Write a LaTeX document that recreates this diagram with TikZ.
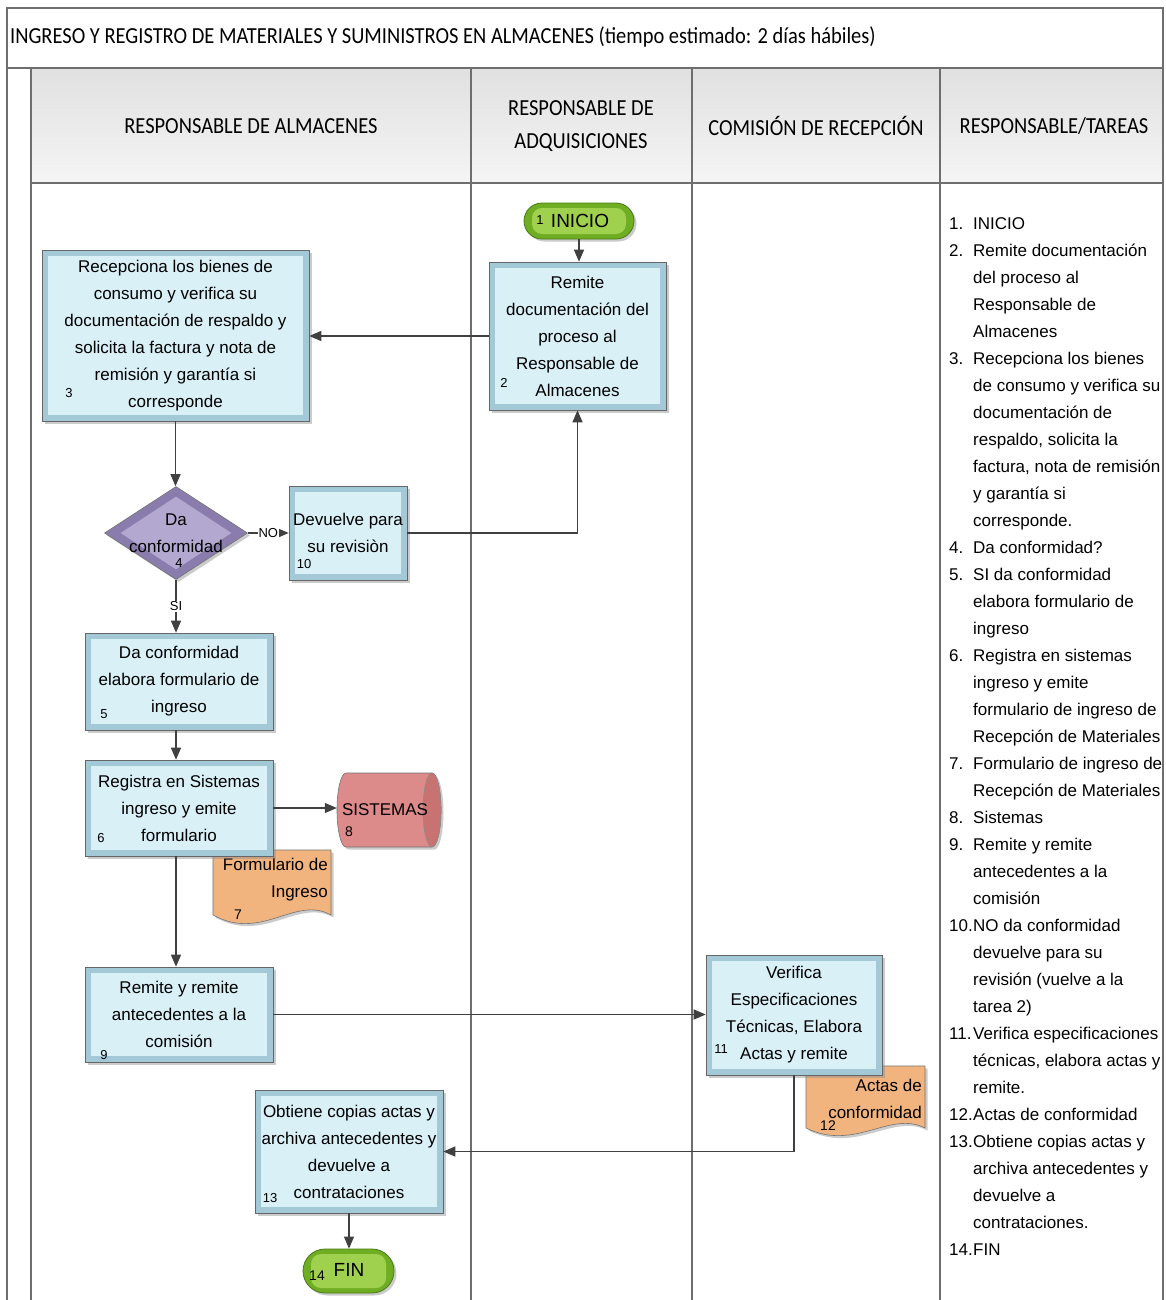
\documentclass[tikz,border=0pt]{standalone}
\usepackage{fontspec}
\setmainfont{Liberation Sans}
\newfontfamily\titlef{Carlito}[FakeStretch=0.89]
\usetikzlibrary{arrows.meta,shapes.geometric,shapes.misc,shadows,calc}
\definecolor{tblline}{HTML}{6E6E6E}
\definecolor{boxout}{HTML}{A3C8D6}
\definecolor{boxin}{HTML}{D9F0F7}
\definecolor{diaout}{HTML}{8A7DAE}
\definecolor{diain}{HTML}{B3A8D0}
\definecolor{grnout}{HTML}{6FAE22}
\definecolor{grnin}{HTML}{9FD14E}
\definecolor{grnline}{HTML}{4A7A18}
\definecolor{cylbody}{HTML}{DC8A8A}
\definecolor{cylend}{HTML}{C97272}
\definecolor{docfill}{HTML}{F2B47E}
\definecolor{arrcol}{HTML}{404040}
\tikzset{
  tbl/.style={draw=tblline, line width=1.2pt},
  shad/.style={drop shadow={shadow xshift=2.5pt, shadow yshift=-2.5pt, fill=black!45, opacity=0.45}},
  proc/.style={rectangle, draw=black!60, line width=0.6pt, fill=boxout, inner sep=0pt,
    align=center, font=\fontsize{17}{27}\selectfont, shad,
    path picture={\fill[boxin] ([xshift=6pt,yshift=-6pt]path picture bounding box.north west)
      rectangle ([xshift=-6pt,yshift=6pt]path picture bounding box.south east);}},
  pill/.style={rounded rectangle, draw=grnline, line width=0.8pt, fill=grnout, inner sep=0pt, shad,
    path picture={\fill[grnin, rounded corners=10pt] ([xshift=8pt,yshift=-5pt]path picture bounding box.north west)
      rectangle ([xshift=-8pt,yshift=5pt]path picture bounding box.south east);}},
  docshape/.style={draw=black!55, line width=0.6pt, fill=docfill, shad},
  num/.style={font=\fontsize{13}{15}\selectfont, inner sep=0pt},
  txt/.style={font=\fontsize{17}{27}\selectfont, inner sep=0pt, align=center},
  hdr/.style={font=\titlef\fontsize{23}{33}\selectfont, inner sep=0pt, align=center},
  arr/.style={draw=arrcol, line width=1.3pt, -{Triangle[length=12pt,width=10pt]}},
  lbl/.style={font=\fontsize{13}{15}\selectfont, fill=white, inner sep=1pt},
}
\begin{document}
\begin{tikzpicture}[x=1pt,y=-1pt]
\useasboundingbox (0,0) rectangle (1165,1300);
\fill[white] (0,0) rectangle (1165,1300);
% header shading
\shade[top color=black!12, bottom color=black!4] (31,68) rectangle (1163,183);
% table lines
\draw[tbl] (7,1300) -- (7,8) -- (1163,8) -- (1163,1300);
\draw[tbl] (7,68) -- (1163,68);
\draw[tbl] (31,183) -- (1163,183);
\draw[tbl] (31,68) -- (31,1300);
\draw[tbl] (471,68) -- (471,1300);
\draw[tbl] (692,68) -- (692,1300);
\draw[tbl] (940,68) -- (940,1300);
% title and headers
\node[anchor=west, font=\titlef\fontsize{23}{27}\selectfont, inner sep=0pt] (title) at (10,37)
  {INGRESO Y REGISTRO DE MATERIALES Y SUMINISTROS EN ALMACENES (tiempo estimado: 2 días hábiles)};
\node[hdr] (h1) at (251,126) {RESPONSABLE DE ALMACENES};
\node[hdr] (h2) at (581,126) {RESPONSABLE DE\\ADQUISICIONES};
\node[hdr] (h3) at (816,126) {COMISIÓN DE RECEPCIÓN};
\node[hdr] (h4) at (1054,126) {RESPONSABLE/TAREAS};

% documents (drawn first, partly hidden)
\path[docshape] (213,850) -- (331,850) -- (331,915)
  .. controls (295,895) and (262,942) .. (213,915) -- cycle;
\node[txt, anchor=east, align=right] (d7) at (328,880) {Formulario de\\Ingreso};
\node[num, font=\fontsize{14}{16}\selectfont] (n7) at (238,915) {7};

\path[docshape] (806,1066) -- (925,1066) -- (925,1128)
  .. controls (890,1110) and (855,1152) .. (806,1128) -- cycle;
\node[txt, anchor=east, align=right] (d12) at (922,1099) {Actas de\\conformidad};
\node[num, font=\fontsize{14}{16}\selectfont] (n12) at (828,1126) {12};

% start
\node[pill, minimum width=110pt, minimum height=36pt] (ini) at (579,221) {};
\node[font=\fontsize{19}{22}\selectfont, inner sep=0pt] (init) at (580,221) {INICIO};
\node[num] (n1) at (540,220) {1};

% process boxes
\node[proc, minimum width=177pt, minimum height=148pt] (b2) at (577.5,336)
  {Remite\\documentación del\\proceso al\\Responsable de\\Almacenes};
\node[num] (n2) at (504,383) {2};

\node[proc, minimum width=267pt, minimum height=171pt] (b3) at (175.5,335.5)
  {Recepciona los bienes de\\consumo y verifica su\\documentación de respaldo y\\solicita la factura y nota de\\remisión y garantía si\\corresponde};
\node[num] (n3) at (69,393) {3};

% decision
\node[diamond, draw=black!55, line width=0.6pt, fill=diaout, minimum width=143pt, minimum height=93pt,
  inner sep=0pt, aspect=1.54, shad,
  path picture={\fill[diain] ($(path picture bounding box.west)+(16pt,0)$) -- ($(path picture bounding box.north)+(0,-10pt)$)
   -- ($(path picture bounding box.east)+(-16pt,0)$) -- ($(path picture bounding box.south)+(0,10pt)$) -- cycle;}]
  (d4) at (176,533) {};
\node[txt] (d4t) at (176,533) {Da\\conformidad};
\node[num] (n4) at (179,563) {4};

\node[proc, minimum width=118pt, minimum height=94pt] (b10) at (348,533) {Devuelve para\\su revisiòn};
\node[num] (n10) at (304,564) {10};

\node[proc, minimum width=188pt, minimum height=97pt] (b5) at (179,681.5)
  {Da conformidad\\elabora formulario de\\ingreso};
\node[num] (n5) at (104,714) {5};

\node[proc, minimum width=188pt, minimum height=96pt] (b6) at (179,808)
  {Registra en Sistemas\\ingreso y emite\\formulario};
\node[num] (n6) at (101,838) {6};

% cylinder (horizontal)
\fill[black!45, opacity=0.45] (348.5,775.5) -- (434.5,775.5)
  arc[start angle=90, end angle=-90, x radius=9pt, y radius=37pt] -- (348.5,849.5)
  arc[start angle=270, end angle=90, x radius=9pt, y radius=37pt] -- cycle;
\path[draw=black!55, line width=0.6pt, fill=cylbody] (346,773) -- (432,773)
  arc[start angle=90, end angle=-90, x radius=9pt, y radius=37pt] -- (346,847)
  arc[start angle=270, end angle=90, x radius=9pt, y radius=37pt] -- cycle;
\path[draw=black!45, line width=0.6pt, fill=cylend] (432,773)
  arc[start angle=90, end angle=270, x radius=9pt, y radius=37pt]
  arc[start angle=-90, end angle=90, x radius=9pt, y radius=37pt];
\node[inner sep=0pt, minimum width=104pt, minimum height=74pt] (sis) at (389,810) {};
\node[txt] (sist) at (385,810) {SISTEMAS};
\node[num, font=\fontsize{14}{16}\selectfont] (n8) at (349,832) {8};

\node[proc, minimum width=188pt, minimum height=95pt] (b9) at (179,1014.5)
  {Remite y remite\\antecedentes a la\\comisión};
\node[num] (n9) at (104,1055) {9};

\node[proc, minimum width=176pt, minimum height=120pt] (b11) at (794,1015)
  {Verifica\\Especificaciones\\Técnicas, Elabora\\Actas y remite};
\node[num] (n11) at (721,1049) {11};

\node[proc, minimum width=188pt, minimum height=123pt] (b13) at (349,1151.5)
  {Obtiene copias actas y\\archiva antecedentes y\\devuelve a\\contrataciones};
\node[num] (n13) at (270,1198) {13};

% end
\node[pill, minimum width=91pt, minimum height=44pt] (fin) at (348.5,1271) {};
\node[font=\fontsize{19}{22}\selectfont, inner sep=0pt] (fint) at (349,1270) {FIN};
\node[num, font=\fontsize{14}{16}\selectfont] (n14) at (317,1276) {14};

% helper coordinates
\coordinate (c5) at (b5.south -| d4.south);
\coordinate (c6) at (b6.south -| d4.south);

% connectors
\draw[arr] (ini.south) -- (ini.south |- b2.north);
\draw[arr] (b2.west) -- (b2.west -| b3.east);
\draw[arr] (b3.south) -- (b3.south |- d4.north);
\draw[arr] (d4.east) -- node[lbl] (lno) {NO} (d4.east -| b10.west);
\draw[arr] (b10.east) -| (b2.south);
\draw[arr] (d4.south) -- node[lbl] (lsi) {SI} (d4.south |- b5.north);
\draw[arr] (c5) -- (c5 |- b6.north);
\draw[arr] (b6.east) -- (b6.east -| sis.west);
\draw[arr] (c6) -- (c6 |- b9.north);
\draw[arr] (b9.east) -- (b9.east -| b11.west);
\draw[arr] (b11.south) |- (b13.east);
\draw[arr] (b13.south) -- (b13.south |- fin.north);

% task list
\node[anchor=north west, inner sep=0pt, font=\fontsize{17}{27}\selectfont] (tasks) at (949,210)
{\begin{tabular}[t]{@{}p{24pt}@{}l@{}}
1. & INICIO\\
2. & Remite documentación\\
 & del proceso al\\
 & Responsable de\\
 & Almacenes\\
3. & Recepciona los bienes\\
 & de consumo y verifica su\\
 & documentación de\\
 & respaldo, solicita la\\
 & factura, nota de remisión\\
 & y garantía si\\
 & corresponde.\\
4. & Da conformidad?\\
5. & SI da conformidad\\
 & elabora formulario de\\
 & ingreso\\
6. & Registra en sistemas\\
 & ingreso y emite\\
 & formulario de ingreso de\\
 & Recepción de Materiales\\
7. & Formulario de ingreso de\\
 & Recepción de Materiales\\
8. & Sistemas\\
9. & Remite y remite\\
 & antecedentes a la\\
 & comisión\\
10. & NO da conformidad\\
 & devuelve para su\\
 & revisión (vuelve a la\\
 & tarea 2)\\
11. & Verifica especificaciones\\
 & técnicas, elabora actas y\\
 & remite.\\
12. & Actas de conformidad\\
13. & Obtiene copias actas y\\
 & archiva antecedentes y\\
 & devuelve a\\
 & contrataciones.\\
14. & FIN
\end{tabular}};
\end{tikzpicture}
\end{document}
